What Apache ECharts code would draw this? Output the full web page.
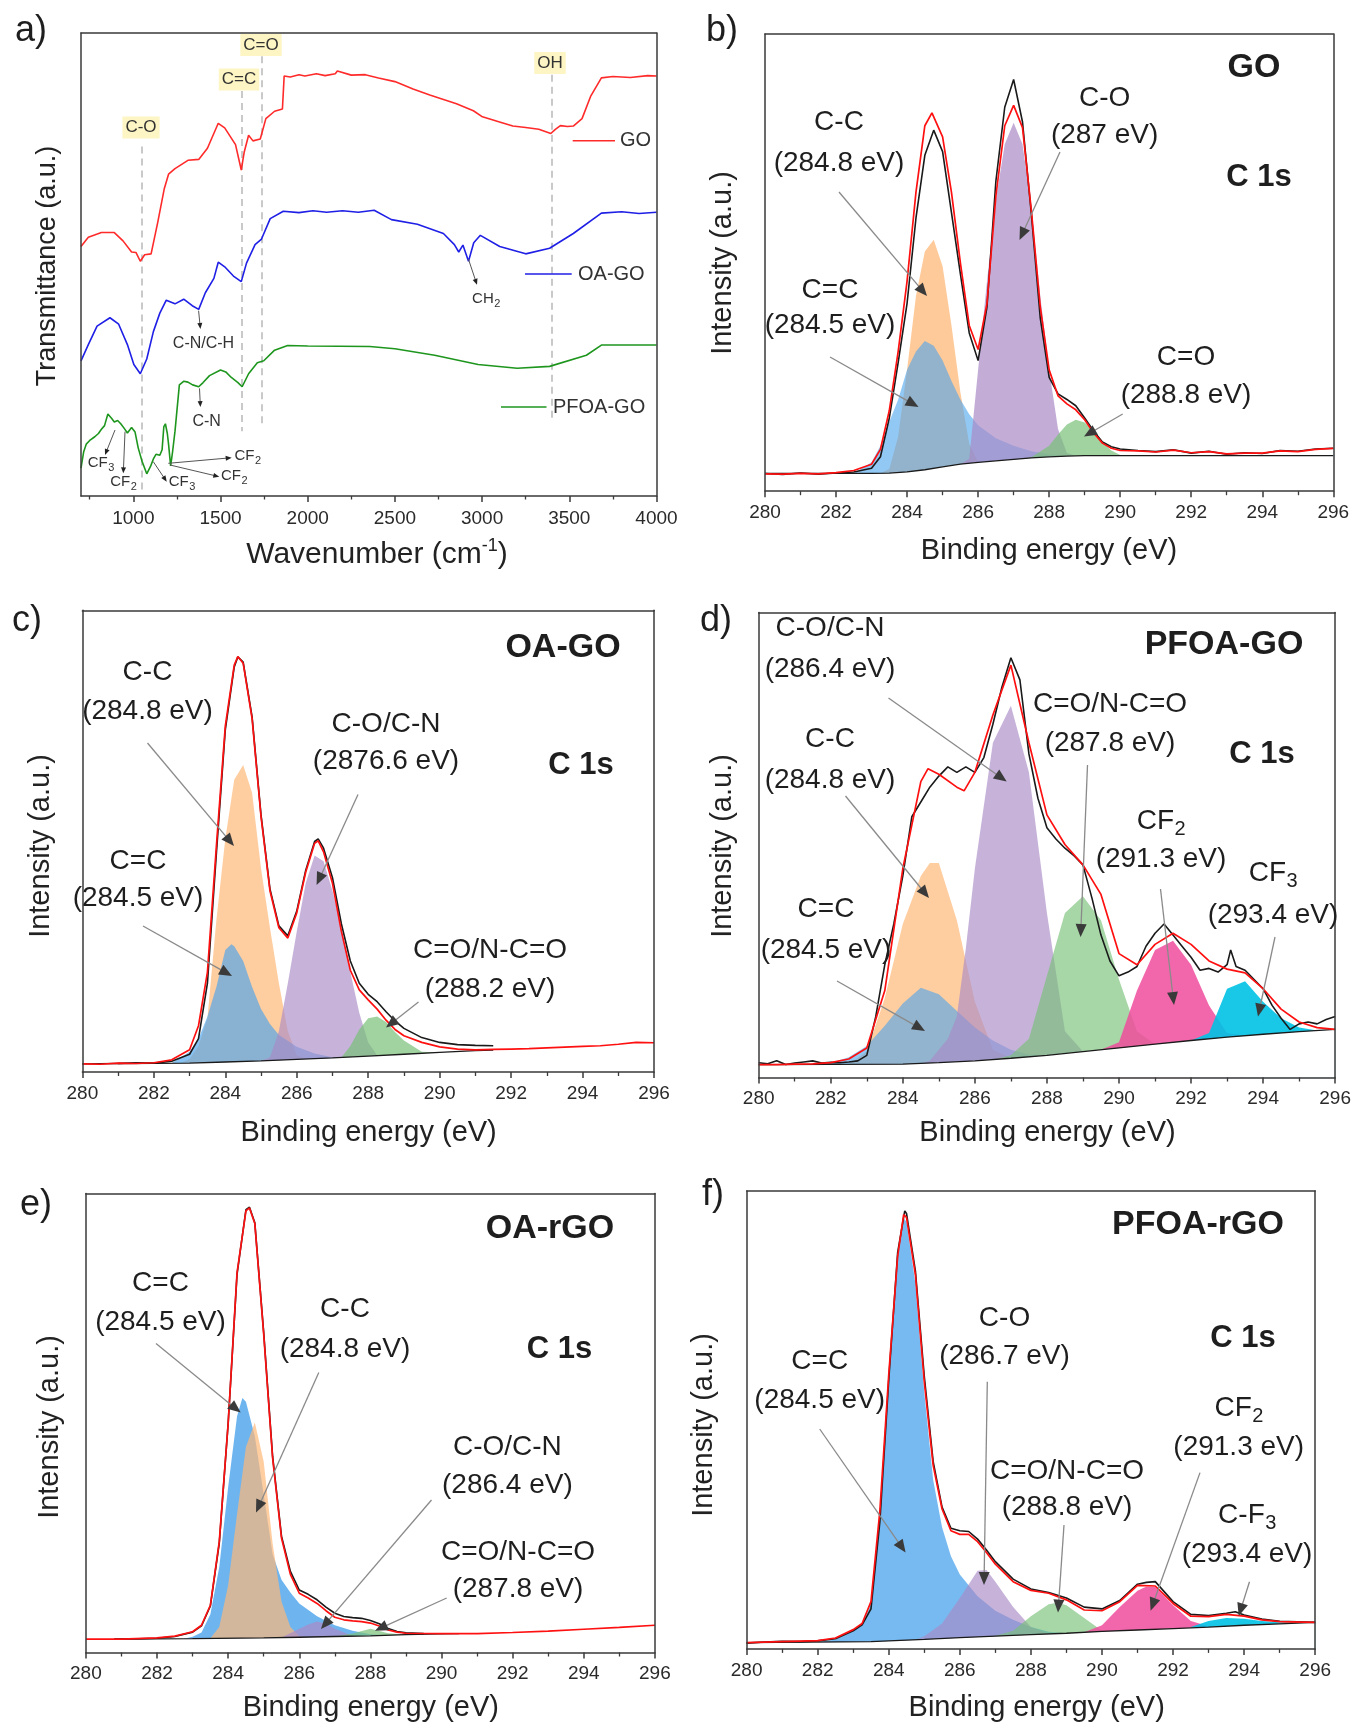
<!DOCTYPE html>
<html><head><meta charset="utf-8">
<script src="https://cdn.jsdelivr.net/npm/echarts@6.0.0/dist/echarts.min.js"></script>
<style>html,body{margin:0;padding:0;background:#fff}#c{width:1354px;height:1730px}</style>
</head><body><div id="c"></div>
<script>
// ================= DATA =================
// ---- Panel a: FTIR (wavenumber, transmittance a.u., offset curves) ----
const ftirGO_x = [700,742,817,891,941,990,1015,1040,1065,1102,1140,1177,1202,1239,1313,1375,1425,1487,1524,1586,1619,1636,1661,1686,1728,1760,1810,1855,1865,1900,1950,1984,2050,2100,2158,2170,2250,2330,2406,2500,2604,2700,2853,2950,3002,3100,3176,3250,3325,3394,3420,3449,3490,3523,3573,3622,3684,3750,3850,3950,4000];
const ftirGO_y = [53.9,55.9,56.9,56.9,55.1,52.7,52.6,50.7,52.1,52.3,59.1,66.3,69.5,70.7,72.5,72.7,75.1,80.5,79.5,75.9,70.4,74.3,77.9,76.7,77.1,81.5,83.1,83.6,90.7,90.5,91.0,90.7,91.2,90.8,91.2,91.8,90.9,91.0,90.3,89.5,87.9,86.6,84.7,83.2,81.9,80.8,79.9,79.6,79.2,78.3,79.2,80.0,79.8,79.9,81.5,86.3,90.3,90.6,90.4,90.8,90.7];
const ftirOA_x = [700,742,792,866,916,966,1003,1040,1077,1115,1152,1189,1239,1289,1338,1375,1413,1462,1487,1524,1574,1619,1649,1698,1735,1785,1860,1950,2030,2108,2200,2290,2381,2480,2629,2778,2841,2866,2890,2922,2952,2990,3101,3250,3387,3523,3684,3800,3900,4000];
const ftirOA_y = [29.2,32.7,36.7,38.5,37.1,32.7,28.4,26.4,29.6,35.5,39.5,42.3,41.5,42.5,41.1,40.3,43.9,47.0,50.5,49.5,47.5,46.3,50.3,54.3,55.5,59.9,61.5,61.2,61.6,61.3,61.6,61.3,61.7,59.7,58.7,56.7,54.3,52.7,54.2,50.7,54.7,56.3,53.9,52.3,53.5,56.7,61.1,61.4,61.0,61.3];
const ftirPF_x = [700,715,730,750,779,800,817,835,854,875,891,910,928,950,966,990,1010,1028,1050,1077,1100,1115,1130,1140,1152,1165,1175,1184,1195,1202,1214,1225,1239,1264,1290,1313,1340,1375,1400,1437,1500,1530,1562,1600,1624,1661,1711,1748,1810,1885,2000,2356,2500,2728,2977,3201,3387,3598,3684,4000];
const ftirPF_y = [6.0,9.5,11.2,12.0,12.8,13.5,14.4,15.2,17.7,16.8,16.0,16.3,15.6,14.5,13.6,14.8,13.8,10.4,7.5,4.8,6.5,8.0,9.0,8.9,8.8,10.0,15.0,15.6,13.5,11.2,6.5,9.5,14.0,24.0,24.8,24.6,24.0,23.6,24.5,26.0,27.2,26.8,25.6,24.5,23.6,26.4,28.8,29.2,31.5,32.5,32.4,32.3,31.8,30.4,28.4,27.6,28.0,30.4,32.6,32.6];
const ftirTicks = [1000,1500,2000,2500,3000,3500,4000];
const ftirMinorTicks = [750,1250,1750,2250,2750,3250,3750];
const bandNames = ['C-O','C=C','C=O','OH'];
const bandPos = [1048,1619,1735,3399];
const bandTop = [75.5,87.5,95,91];
const bandBottom = [0.4,14,15.2,16];

// ---- Panel b: GO C 1s  ([binding energy eV, intensity a.u.]) ----
const b_raw = [[280,4.8],[280.5,4.5],[281,4.9],[281.5,4.6],[282,4.9],[282.5,5.2],[283,6.2],[283.25,9.3],[283.5,19.8],[283.75,34.8],[284,50.8],[284.25,73.8],[284.5,90.8],[284.75,97.6],[285,91.8],[285.25,75.3],[285.5,58.8],[285.75,42.8],[286,35.3],[286.25,49.8],[286.5,83.8],[286.75,103.8],[287,111.3],[287.25,99.8],[287.5,74.8],[287.75,46.8],[288,30.8],[288.25,26.3],[288.5,24.8],[288.75,23.1],[289,19.8],[289.25,16.3],[289.5,13.3],[289.75,12.0],[290,11.4],[290.5,11.0],[291,10.7],[291.5,11.2],[292,10.3],[292.5,10.8],[293,10.0],[293.5,10.4],[294,10.2],[294.5,11.0],[295,10.8],[295.5,11.4],[296,11.6]];
const b_fit = [[280,4.7],[280.5,4.6],[281,4.8],[281.5,4.7],[282,5.0],[282.5,5.6],[283,7.3],[283.25,11.3],[283.5,21.8],[283.75,37.8],[284,56.8],[284.25,80.8],[284.5,98.8],[284.7,102.3],[285,95.8],[285.25,80.8],[285.5,61.8],[285.75,44.8],[286,38.3],[286.25,50.8],[286.5,79.8],[286.75,98.8],[287,104.3],[287.25,98.3],[287.5,75.8],[287.75,49.8],[288,32.8],[288.25,25.8],[288.5,23.6],[288.75,22.0],[289,19.3],[289.25,15.8],[289.5,13.0],[289.75,11.6],[290,11.0],[290.5,10.9],[291,10.6],[291.5,11.1],[292,10.4],[292.5,10.7],[293,10.1],[293.5,10.3],[294,10.3],[294.5,10.9],[295,10.7],[295.5,11.3],[296,11.6]];
const b_bg = [[280,4.8],[283,4.8],[283.5,4.9],[284,5.2],[284.5,5.8],[285,6.6],[285.5,7.3],[286,7.8],[286.5,8.2],[287,8.6],[287.5,9.0],[288,9.3],[288.5,9.5],[289,9.6],[296,9.6]];
const b_CC2 = [[282.5,4.8],[283,7.8],[283.25,12.3],[283.5,18.8],[283.75,24.8],[284,32.8],[284.25,37.8],[284.5,40.6],[284.75,39.3],[285,35.3],[285.25,29.8],[285.5,24.8],[285.75,20.8],[286,17.8],[286.5,14.3],[287,12.3],[287.5,10.8],[288,10.0],[288.5,9.5]];
const b_CC1 = [[283.25,4.85],[283.5,6.0],[283.75,14.8],[284,32.8],[284.25,52.8],[284.5,64.8],[284.75,68.0],[285,60.8],[285.25,44.8],[285.5,26.8],[285.75,12.8],[286,7.8]];
const b_CO = [[285.5,7.3],[285.75,8.8],[286,32.8],[286.25,56.8],[286.5,78.8],[286.75,93.8],[287,99.6],[287.25,93.8],[287.5,76.8],[287.75,52.8],[288,32.8],[288.25,16.8],[288.5,10.3],[288.75,9.6]];
const b_CdO = [[287.25,8.8],[287.5,9.2],[288,12.3],[288.25,15.3],[288.5,18.0],[288.75,19.3],[289,18.6],[289.25,16.3],[289.5,13.3],[289.75,11.0],[290,9.8],[290.25,9.6]];

// ---- Panel c: OA-GO C 1s ----
const c_raw = [[281,2.3],[281.5,2.5],[282,2.4],[282.5,2.9],[283,4.8],[283.25,9],[283.5,24],[283.75,59],[284,92.5],[284.25,109.5],[284.35,112.2],[284.5,110.8],[284.75,96],[285,69.5],[285.25,49.5],[285.5,39.5],[285.75,36.8],[286,43.5],[286.25,54.5],[286.5,62.3],[286.6,63.0],[286.75,60.5],[287,52.5],[287.25,40],[287.5,30],[287.75,24],[288,21],[288.25,19],[288.5,16.3],[288.75,13.8],[289,11.8],[289.5,9.3],[290,8.0],[290.5,7.4],[291,7.2],[291.5,7.1]];
const c_fit = [[280,2.2],[280.5,2.1],[281,2.4],[281.5,2.3],[282,2.5],[282.5,3.3],[283,6.0],[283.25,12.5],[283.5,27],[283.75,61],[284,93.5],[284.25,110],[284.35,112.3],[284.5,110.5],[284.75,95.5],[285,69],[285.25,49],[285.5,39],[285.75,36.2],[286,43],[286.25,54],[286.5,61.8],[286.6,62.5],[286.75,59.5],[287,51],[287.25,38],[287.5,27.5],[287.75,22.2],[288,19.5],[288.25,17],[288.5,14],[288.75,11.5],[289,9.8],[289.5,8.0],[290,6.8],[290.5,6.2],[291,6.0],[291.5,6.1],[292,6.2],[292.5,6.3],[293,6.5],[293.5,6.7],[294,6.9],[294.5,7.1],[295,7.5],[295.5,8.0],[296,7.9]];
const c_bg = [[280,2.2],[281,2.3],[282,2.35],[283,2.4],[284,2.7],[285,3.0],[286,3.4],[287,3.8],[288,4.3],[289,4.8],[290,5.3],[291,5.8],[291.5,5.9]];
const c_CC2 = [[282.5,2.4],[283,5.5],[283.25,9],[283.5,15],[283.75,23],[284,33],[284.17,34.5],[284.25,34],[284.5,30],[284.75,23],[285,17],[285.25,13],[285.5,10],[286,6.8],[286.5,5],[287,4],[287.5,4.0]];
const c_CC1 = [[282.75,2.4],[283,3.5],[283.25,7],[283.5,14.5],[283.75,41],[284,63],[284.25,79],[284.5,83],[284.75,75.5],[285,55],[285.25,39],[285.5,24],[285.75,11],[286,4.5],[286.25,3.6]];
const c_CO = [[285,3.0],[285.25,4],[285.5,11],[285.75,24],[286,38],[286.25,51],[286.5,58.5],[286.75,57],[287,49],[287.25,39],[287.5,27],[287.75,16],[288,8],[288.25,4.5]];
const c_CdO = [[287.25,3.9],[287.5,7],[287.75,11.5],[288,14.5],[288.25,15],[288.5,13.5],[288.75,10.8],[289,8.5],[289.5,5.5],[290,5.3]];

// ---- Panel d: PFOA-GO C 1s ----
const d_raw = [[280,4.0],[280.25,3.7],[280.5,4.5],[280.75,3.5],[281,3.9],[281.25,4.2],[281.5,4.5],[281.75,3.9],[282,4.1],[282.25,4.0],[282.5,4.2],[282.75,4.5],[283,6.0],[283.25,16.5],[283.5,30.5],[283.75,41.5],[284,54.5],[284.25,70.5],[284.5,74.5],[284.75,78.5],[285,81.5],[285.25,84.0],[285.5,82.5],[285.75,84.0],[286,82.5],[286.25,86.5],[286.5,95.5],[286.75,105.5],[287,113.5],[287.25,107.5],[287.5,87.5],[287.75,75.5],[288,67.5],[288.25,64.5],[288.5,62.0],[288.75,60.0],[289,57.5],[289.25,48.5],[289.5,38.5],[289.75,31.5],[290,27.5],[290.25,28.5],[290.5,30.0],[290.75,35.5],[291,39.0],[291.25,41.5],[291.5,38.5],[291.75,35.5],[292,32.5],[292.25,29.0],[292.5,29.5],[292.75,28.5],[293,30.5],[293.1,34.5],[293.25,30.0],[293.5,29.0],[293.75,26.5],[294,24.0],[294.25,19.5],[294.5,16.0],[294.75,13.0],[295,14.5],[295.25,15.0],[295.5,14.5],[295.75,15.7],[296,16.5]];
const d_fit = [[280,3.5],[280.5,3.5],[281,3.6],[281.5,3.7],[282,4.0],[282.5,5.0],[283,8.0],[283.5,23.5],[284,56.5],[284.5,80],[284.7,83.5],[285,82],[285.5,78.5],[285.7,77.5],[286,82.5],[286.5,98],[287,111.5],[287.5,90.5],[288,71],[288.5,63],[289,57.5],[289.5,49.5],[290,33.5],[290.5,30.5],[291,36],[291.5,39],[292,36],[292.5,31.5],[293,29.3],[293.5,28.3],[294,24],[294.5,18.5],[295,15],[295.5,13.5],[296,13]];
const d_bg = [[280,3.5],[284,3.6],[285,4.0],[286,4.5],[287,5.2],[288,6.0],[289,7.0],[290,8.0],[291,9.0],[292,10.0],[293,10.9],[294,11.7],[295,12.4],[296,13.0]];
const d_CC2 = [[281.5,3.6],[282,4.0],[282.5,5.5],[283,8.5],[283.5,14],[284,20],[284.5,24.3],[285,22.5],[285.5,18],[286,13.5],[286.5,10],[287,7.5],[287.5,6.2],[288,6.0]];
const d_CC1 = [[282.5,3.6],[283,7],[283.5,21.5],[284,41.5],[284.5,54.5],[284.75,58],[285,58],[285.5,42.5],[286,20.5],[286.5,7.5],[287,5.2]];
const d_CO = [[284.5,3.8],[284.75,4.5],[285,7.5],[285.25,10.5],[285.5,16.5],[285.75,35],[286,56.5],[286.5,90.5],[287,100.5],[287.5,82.5],[288,44.5],[288.5,12.5],[289,7.0]];
const d_CdO = [[286.5,4.8],[287,6],[287.5,10.5],[288,27.5],[288.5,44.5],[289,49],[289.5,42.5],[290,26.5],[290.5,12.5],[291,9]];
const d_CF2 = [[289.5,7.5],[290,9.5],[290.5,23.5],[291,34.5],[291.5,37],[292,30.5],[292.5,19.5],[293,12],[293.5,11.3]];
const d_CF3 = [[292,10],[292.5,12],[293,24],[293.5,26],[294,20.5],[294.5,16],[295,13.5],[295.5,12.7],[296,13]];

// ---- Panel e: OA-rGO C 1s ----
const e_raw = [[280.8,3.7],[281.5,3.8],[282,3.9],[282.5,4.4],[283,5.6],[283.25,7.3],[283.5,12.8],[283.75,30],[284,63],[284.25,104],[284.5,121.8],[284.6,122.5],[284.75,118.2],[285,88],[285.25,54],[285.5,32],[285.75,22.3],[286,17.2],[286.25,16],[286.5,14.5],[286.75,12.5],[287,10.8],[287.25,9.9],[287.5,9.6],[287.75,9.4],[288,8.8],[288.25,7.9],[288.5,6.6],[288.75,5.8],[289,5.4],[289.5,5.2]];
const e_fit = [[280,3.7],[281,3.7],[282,4.0],[282.5,4.5],[283,5.7],[283.25,7.5],[283.5,13],[283.75,30.5],[284,63],[284.25,104.5],[284.5,121.5],[284.6,122.3],[284.75,118],[285,87.5],[285.25,53.5],[285.5,31.5],[285.75,21.5],[286,16.3],[286.25,15],[286.5,13.5],[286.75,11.5],[287,9.7],[287.25,9],[287.5,8.7],[287.75,8.5],[288,8.1],[288.25,7.3],[288.5,6.2],[288.75,5.6],[289,5.3],[290,5.2],[291,5.2],[292,5.5],[293,5.9],[294,6.4],[295,6.9],[296,7.5]];
const e_bg = [[280.8,3.7],[283,3.8],[285,4.0],[286,4.2],[287,4.4],[288,4.6],[289,4.9],[290,5.1],[290.5,5.2]];
const e_CC2 = [[282.75,3.8],[283,4.3],[283.25,5.5],[283.5,10.5],[283.75,23.5],[284,45.5],[284.25,65],[284.4,70],[284.5,69],[284.75,59.5],[285,43.5],[285.25,27],[285.5,20],[285.75,16.5],[286,13.5],[286.5,10],[287,7.5],[287.5,6],[288,5],[288.5,4.7],[289,4.9]];
const e_CC1 = [[283.5,3.9],[283.75,7],[284,18.5],[284.25,38],[284.5,56.5],[284.75,63.3],[285,52.5],[285.25,30],[285.5,14],[285.75,7],[286,4.5],[286.25,4.2]];
const e_CO = [[285.5,4.1],[286,6.5],[286.25,7.7],[286.5,8.5],[286.75,8],[287,6.5],[287.5,4.6],[287.75,4.5]];
const e_CdO = [[287,4.4],[287.5,5.2],[288,6.5],[288.5,5.3],[289,4.9]];

// ---- Panel f: PFOA-rGO C 1s ----
const f_raw = [[280,1.6],[280.5,1.9],[281,2.1],[281.5,2.0],[282,2.2],[282.5,2.8],[283,5.0],[283.25,6.6],[283.5,11],[283.75,35],[284,74],[284.25,109],[284.45,120.5],[284.5,119.8],[284.75,104],[285,75],[285.25,51.5],[285.5,39],[285.75,33.2],[286,32.5],[286.25,32.3],[286.5,30.2],[286.75,27.2],[287,24],[287.5,19.2],[288,16.5],[288.5,15.5],[289,14],[289.5,11.5],[290,11],[290.5,13.3],[291,17.8],[291.25,18.3],[291.5,18.5],[292,13],[292.5,9.5],[293,9.2],[293.5,9.8],[293.75,10.2],[294,9.3],[294.5,8.2],[295,7.6],[296,7.3]];
const f_fit = [[280,1.7],[281,2.0],[282,2.3],[282.5,3.0],[283,5.3],[283.25,7.0],[283.5,13],[283.75,38],[284,75.5],[284.25,108],[284.42,119.5],[284.5,118.7],[284.75,103],[285,73.5],[285.25,50.5],[285.5,38.5],[285.75,32.5],[286,31.5],[286.25,31.5],[286.5,29.5],[286.75,26.5],[287,23.3],[287.5,18.5],[288,16.1],[288.5,15.3],[289,13.5],[289.5,10.7],[290,10.5],[290.5,13],[291,17.5],[291.5,17.3],[292,12.5],[292.5,9],[293,8.9],[293.5,9.5],[294,9],[294.5,8],[295,7.5],[296,7.3]];
const f_bg = [[280,1.7],[283.5,2.0],[284,2.2],[285,2.6],[286,3.1],[287,3.5],[288,3.9],[289,4.3],[290,4.8],[291,5.2],[292,5.6],[293,6.0],[294,6.5],[295,6.9],[296,7.3]];
const f_CC2 = [[282,1.9],[282.5,2.6],[283,5],[283.25,6.5],[283.5,12.5],[283.75,37.5],[284,74.5],[284.25,107.5],[284.42,118.5],[284.5,117.5],[284.75,100.5],[285,70.5],[285.25,46.5],[285.5,33.5],[285.75,25.5],[286,20.5],[286.5,14.5],[287,10.5],[287.5,8],[288,6],[288.5,4.7],[289,4.3]];
const f_CO = [[284.75,2.5],[285,3.5],[285.5,7],[286,14],[286.5,21.5],[286.75,21.7],[287,18.5],[287.5,11.5],[288,6],[288.5,4.1]];
const f_CdO = [[287,3.6],[287.5,5],[288,9],[288.5,12.3],[288.75,12.7],[289,12],[289.5,8.5],[290,5],[290.5,5.0]];
const f_CF2 = [[289.5,4.6],[290,6.5],[290.5,11.5],[291,16],[291.25,17.2],[291.5,17],[292,12],[292.5,7.7],[293,6.2],[293.5,6.2]];
const f_CF3 = [[292.5,6],[293,7.7],[293.5,8.5],[294,8.3],[294.5,7.7],[295,7.3],[295.5,7.1],[296,7.3]];

// ================= STYLE / LAYOUT =================
const FONT = '"Liberation Sans", Arial, Helvetica, sans-serif';
const COL = {
  blue:'#4aa3ec', orange:'#fdb878', purple:'#a98ac6', green:'#78c078', pink:'#f04c9c', cyan:'#00c2e4'
};
const grids = [
  {left:81, top:33, width:575.5, height:463},
  {left:765, top:34, width:568.3, height:457.2},
  {left:82.4, top:610.3, width:571.6, height:461.7},
  {left:758.7, top:612.6, width:577.6, height:464.9},
  {left:85.9, top:1193.4, width:569, height:459.1},
  {left:746.6, top:1190.9, width:568.6, height:458}
];
const yMax = [100,123.6,124.8,125.7,126.3,126.0];
const AX = '#3a3a3a';

const xAxes = [], yAxes = [], series = [];
function frameAxes(gi, xmin, xmax) {
  xAxes.push({gridIndex:gi, type:'value', min:xmin, max:xmax, position:'top', z:10,
    axisLine:{show:true, onZero:false, lineStyle:{color:AX, width:1.5}}, axisTick:{show:false}, axisLabel:{show:false}, splitLine:{show:false}});
  yAxes.push({gridIndex:gi, type:'value', min:0, max:yMax[gi], position:'left', z:10,
    axisLine:{show:true, onZero:false, lineStyle:{color:AX, width:1.5}}, axisTick:{show:false}, axisLabel:{show:false}, splitLine:{show:false}});
  const yi = yAxes.length - 1;
  yAxes.push({gridIndex:gi, type:'value', min:0, max:yMax[gi], position:'right', z:10,
    axisLine:{show:true, onZero:false, lineStyle:{color:AX, width:1.5}}, axisTick:{show:false}, axisLabel:{show:false}, splitLine:{show:false}});
  return yi;
}
const labelStyle = {fontSize:19, color:'#2a2a2a', fontFamily:FONT, formatter:(v)=>String(v)};

// ---- panel a axes ----
xAxes.push({gridIndex:0, type:'value', min:700, max:4000, position:'bottom', z:10,
  axisLine:{show:true, onZero:false, lineStyle:{color:AX, width:1.5}},
  axisTick:{show:true, length:6, customValues:ftirTicks, lineStyle:{color:AX, width:1.5}},
  axisLabel:Object.assign({margin:13, customValues:ftirTicks}, labelStyle), splitLine:{show:false}});
const aX = xAxes.length - 1;
xAxes.push({gridIndex:0, type:'value', min:700, max:4000, position:'bottom', z:10,
  axisLine:{show:false}, axisTick:{show:true, length:3.5, customValues:ftirMinorTicks, lineStyle:{color:AX, width:1.3}},
  axisLabel:{show:false}, splitLine:{show:false}});
const aY = frameAxes(0, 700, 4000);

function ftirLine(name, xs, ys, color, extra) {
  return Object.assign({type:'line', name, xAxisIndex:aX, yAxisIndex:aY, symbol:'none', animation:false,
    lineStyle:{color, width:1.6}, data: xs.map((x,i)=>[x, ys[i]]), z:5}, extra || {});
}
series.push(ftirLine('GO', ftirGO_x, ftirGO_y, '#ff2a2a', {
  markLine:{silent:true, symbol:['none','none'], label:{show:false}, animation:false,
    lineStyle:{type:[7,5], color:'#c9c9c9', width:2},
    data: bandPos.map((x,i)=>[{coord:[x, bandTop[i]]},{coord:[x, bandBottom[i]]}])}
}));
series.push(ftirLine('OA-GO', ftirOA_x, ftirOA_y, '#1f1fe6'));
series.push(ftirLine('PFOA-GO', ftirPF_x, ftirPF_y, '#1e961e'));

// ---- XPS panels ----
function xpsPanel(gi, comps, bg, raw, fit) {
  xAxes.push({gridIndex:gi, type:'value', min:280, max:296, interval:2, position:'bottom', z:10,
    axisLine:{show:true, onZero:false, lineStyle:{color:AX, width:1.5}},
    axisTick:{show:true, length:6, lineStyle:{color:AX, width:1.5}},
    minorTick:{show:true, splitNumber:2, length:4, lineStyle:{color:AX, width:1.3}},
    axisLabel:Object.assign({margin:12}, labelStyle), splitLine:{show:false}, minorSplitLine:{show:false}});
  const xi = xAxes.length - 1;
  const yi = frameAxes(gi, 280, 296);
  comps.forEach(([data, color, op]) => series.push({type:'line', xAxisIndex:xi, yAxisIndex:yi, symbol:'none', animation:false,
    data, z:1, lineStyle:{width:0, opacity:0}, areaStyle:{color, opacity:op}}));
  series.push({type:'line', xAxisIndex:xi, yAxisIndex:yi, symbol:'none', animation:false, data:bg, z:3,
    lineStyle:{color:'#1a1a1a', width:1.3}, areaStyle:{color:'#ffffff', opacity:1}});
  if (raw) series.push({type:'line', xAxisIndex:xi, yAxisIndex:yi, symbol:'none', animation:false, data:raw, z:4,
    lineStyle:{color:'#1a1a1a', width:1.6}});
  series.push({type:'line', xAxisIndex:xi, yAxisIndex:yi, symbol:'none', animation:false, data:fit, z:5,
    lineStyle:{color:'#ff1010', width:1.7}});
}
xpsPanel(1, [[b_CC1,COL.orange,0.75],[b_CC2,COL.blue,0.6],[b_CO,COL.purple,0.7],[b_CdO,COL.green,0.7]], b_bg, b_raw, b_fit);
xpsPanel(2, [[c_CC1,COL.orange,0.7],[c_CC2,COL.blue,0.65],[c_CO,COL.purple,0.65],[c_CdO,COL.green,0.7]], c_bg, c_raw, c_fit);
xpsPanel(3, [[d_CC1,COL.orange,0.7],[d_CC2,COL.blue,0.6],[d_CO,COL.purple,0.65],[d_CdO,COL.green,0.65],[d_CF2,COL.pink,0.85],[d_CF3,COL.cyan,0.9]], d_bg, d_raw, d_fit);
xpsPanel(4, [[e_CC2,COL.blue,0.8],[e_CC1,COL.orange,0.7],[e_CO,COL.purple,0.7],[e_CdO,COL.green,0.7]], e_bg, e_raw, e_fit);
xpsPanel(5, [[f_CC2,COL.blue,0.75],[f_CO,COL.purple,0.65],[f_CdO,COL.green,0.65],[f_CF2,COL.pink,0.85],[f_CF3,COL.cyan,0.9]], f_bg, f_raw, f_fit);

// ================= ANNOTATIONS =================
const G = [];
const mctx = document.createElement('canvas').getContext('2d');
function tw(text, size, bold) { mctx.font = (bold ? 'bold ' : '') + size + 'px ' + FONT; return mctx.measureText(text).width; }
function T(x, y, text, size, o) {
  o = o || {};
  G.push({type:'text', x, y, rotation:o.rot||0, z:100, silent:true,
    style:{text, fill:o.color||'#1e1e1e', fontSize:size, fontFamily:FONT, fontWeight:o.bold?'bold':'normal',
      align:o.align||'center', verticalAlign:'middle', backgroundColor:o.bg, padding:o.pad}});
}
// text with subscript: parts placed side by side, sub lowered
function TS(x, y, main, sub, S, o) {
  o = o || {};
  const s2 = Math.round(S*0.7);
  const w1 = tw(main, S), w2 = tw(sub, s2);
  const left = x - (w1 + w2)/2;
  T(left, y, main, S, {align:'left', color:o.color});
  T(left + w1 + 0.5, y + S*0.3, sub, s2, {align:'left', color:o.color});
}
function arrow(x1, y1, x2, y2, o) {
  o = o || {};
  const hl = o.hl || 13, hw = o.hw || 11;
  const dx = x2-x1, dy = y2-y1, L = Math.hypot(dx, dy), ux = dx/L, uy = dy/L;
  const bx = x2-ux*hl, by = y2-uy*hl, px = -uy*hw/2, py = ux*hw/2;
  G.push({type:'line', z:99, silent:true, shape:{x1, y1, x2:bx+ux*2, y2:by+uy*2}, style:{stroke:o.color||'#8a8a8a', lineWidth:o.lw||1.3}});
  G.push({type:'polygon', z:99, silent:true, shape:{points:[[x2,y2],[bx+px,by+py],[bx-px,by-py]]}, style:{fill:o.head||'#3a3a3a'}});
}

// panel letters
T(31, 31, 'a)', 36); T(722, 31, 'b)', 36); T(27, 621, 'c)', 36);
T(716, 621, 'd)', 36); T(36, 1205, 'e)', 36); T(713, 1195, 'f)', 36);

// ---- panel a ----
const bandLabelPos = [[141,127.6],[239,79.5],[261,45],[550,63]];
bandNames.forEach((n,i)=>T(bandLabelPos[i][0], bandLabelPos[i][1], n, 17, {bg:'#fdf5c4', pad:[3,3,2,3], color:'#333'}));
const aS = {hl:6, hw:5, color:'#555', head:'#222', lw:1};
TS(486, 299, 'CH', '2', 15, {color:'#333'}); arrow(468.4, 259, 477, 284.8, aS);
T(203.5, 344, 'C-N/C-H', 16, {color:'#333'}); arrow(198.6, 310.7, 200.4, 329, aS);
T(206.6, 421.7, 'C-N', 16, {color:'#333'}); arrow(199.5, 388.4, 200.4, 407, aS);
TS(100.8, 463, 'CF', '3', 15, {color:'#333'}); arrow(115, 430, 105, 455, aS);
TS(123.3, 482, 'CF', '2', 15, {color:'#333'}); arrow(125, 431.7, 123.3, 473.3, aS);
TS(181.7, 482, 'CF', '3', 15, {color:'#333'}); arrow(153.3, 461.7, 166.7, 481.7, aS);
TS(247.5, 456.3, 'CF', '2', 15, {color:'#333'}); arrow(168.3, 463.3, 231.7, 457.7, aS);
TS(234, 476.3, 'CF', '2', 15, {color:'#333'}); arrow(170, 465, 219.3, 476.7, aS);
// legend
[[572.7,615,140.7,'GO','#ff2a2a',620],[525,571.7,274,'OA-GO','#1f1fe6',578],[501,546.5,407,'PFOA-GO','#1e961e',553]].forEach(l=>{
  G.push({type:'line', z:99, silent:true, shape:{x1:l[0], y1:l[2], x2:l[1], y2:l[2]}, style:{stroke:l[4], lineWidth:1.6}});
  T(l[5], l[2], l[3], 20, {align:'left', color:'#333'});
});
(function(){
  const S = 30, s2 = 18, p1 = 'Wavenumber (cm', p2 = '-1', p3 = ')';
  const w1 = tw(p1, S), w2 = tw(p2, s2), w3 = tw(p3, S);
  const left = 377 - (w1 + w2 + w3)/2, y = 555;
  T(left, y, p1, S, {align:'left', color:'#222'});
  T(left + w1, y - S*0.3, p2, s2, {align:'left', color:'#222'});
  T(left + w1 + w2, y, p3, S, {align:'left', color:'#222'});
})();
T(47.7, 266, 'Transmittance (a.u.)', 27, {rot:Math.PI/2, color:'#222'});

// ---- XPS common ----
const AS = 28;
function lab2(x, y1, y2, l1, l2, sub) {
  if (sub) TS(x, y1 - 3, l1, sub, AS); else T(x, y1, l1, AS);
  T(x, y2, l2, AS);
}
function titles(xc, xy, yx, yy) {
  T(xc, xy, 'Binding energy (eV)', 29, {color:'#222'});
  T(yx, yy, 'Intensity (a.u.)', 29, {rot:Math.PI/2, color:'#222'});
}
// b
T(1254, 68, 'GO', 34, {bold:true}); T(1259, 177, 'C 1s', 31, {bold:true});
lab2(839, 122, 163, 'C-C', '(284.8 eV)'); arrow(839, 192, 927, 296);
lab2(830, 290, 325.5, 'C=C', '(284.5 eV)'); arrow(830, 357, 918.5, 407);
lab2(1104.6, 98, 135, 'C-O', '(287 eV)'); arrow(1060, 152, 1019.5, 240);
lab2(1186, 357, 395, 'C=O', '(288.8 eV)'); arrow(1122.7, 414, 1084, 436.5);
titles(1049, 551, 723, 263);
// c
T(563, 648, 'OA-GO', 34, {bold:true}); T(581, 765, 'C 1s', 31, {bold:true});
lab2(147.5, 672.5, 711.3, 'C-C', '(284.8 eV)'); arrow(147.5, 743, 234, 846);
lab2(138, 861, 898, 'C=C', '(284.5 eV)'); arrow(143, 926, 232, 976);
lab2(386, 724, 761, 'C-O/C-N', '(2876.6 eV)'); arrow(358, 794.5, 316.6, 885);
lab2(490, 950, 989, 'C=O/N-C=O', '(288.2 eV)'); arrow(418.5, 1002, 386, 1027.6);
titles(368.6, 1133, 41, 846);
// d
T(1224, 645, 'PFOA-GO', 34, {bold:true}); T(1262, 754, 'C 1s', 31, {bold:true});
lab2(830, 628, 669, 'C-O/C-N', '(286.4 eV)'); arrow(888.5, 698, 1006.7, 781.6);
lab2(830, 739, 780, 'C-C', '(284.8 eV)'); arrow(845.5, 796, 929, 898);
lab2(826, 909, 950, 'C=C', '(284.5 eV)'); arrow(837, 981, 925, 1031);
lab2(1110, 704, 743, 'C=O/N-C=O', '(287.8 eV)'); arrow(1087.5, 765, 1080.6, 937);
lab2(1161, 824, 859, 'CF', '(291.3 eV)', '2'); arrow(1160.5, 889, 1174, 1005);
lab2(1273, 876, 915, 'CF', '(293.4 eV)', '3'); arrow(1275, 937, 1258, 1016.5);
titles(1047.5, 1133, 723, 846);
// e
T(550, 1229, 'OA-rGO', 34, {bold:true}); T(559.5, 1349, 'C 1s', 31, {bold:true});
lab2(160.5, 1283.6, 1322, 'C=C', '(284.5 eV)'); arrow(156, 1343.6, 240.7, 1412.6);
lab2(345, 1309, 1349, 'C-C', '(284.8 eV)'); arrow(318.8, 1372.6, 256, 1512.6);
lab2(507.4, 1447, 1485, 'C-O/C-N', '(286.4 eV)'); arrow(431.5, 1500, 321, 1629);
lab2(518, 1552.6, 1589, 'C=O/N-C=O', '(287.8 eV)'); arrow(446.7, 1598, 375, 1630.7);
titles(370.8, 1708, 50, 1427);
// f
T(1198, 1225, 'PFOA-rGO', 34, {bold:true}); T(1243, 1338, 'C 1s', 31, {bold:true});
lab2(819.7, 1361.7, 1400, 'C=C', '(284.5 eV)'); arrow(819.7, 1429, 905.6, 1552.6);
lab2(1004.5, 1318, 1356, 'C-O', '(286.7 eV)'); arrow(987.3, 1381.7, 984, 1585);
lab2(1067, 1471, 1507, 'C=O/N-C=O', '(288.8 eV)'); arrow(1064, 1525, 1058, 1612.6);
lab2(1238.7, 1411, 1447, 'CF', '(291.3 eV)', '2'); arrow(1200, 1472.6, 1150.6, 1610.7);
lab2(1247, 1518, 1554, 'C-F', '(293.4 eV)', '3'); arrow(1249.5, 1581.7, 1238.7, 1616);
titles(1036.7, 1708, 703.6, 1425);

const chart = echarts.init(document.getElementById('c'), null, {renderer:'canvas'});
chart.setOption({
  animation:false, backgroundColor:'#ffffff',
  grid: grids.map(g=>Object.assign({containLabel:false, show:false}, g)),
  xAxis: xAxes, yAxis: yAxes, series, graphic:{elements:G}
});
</script></body></html>
